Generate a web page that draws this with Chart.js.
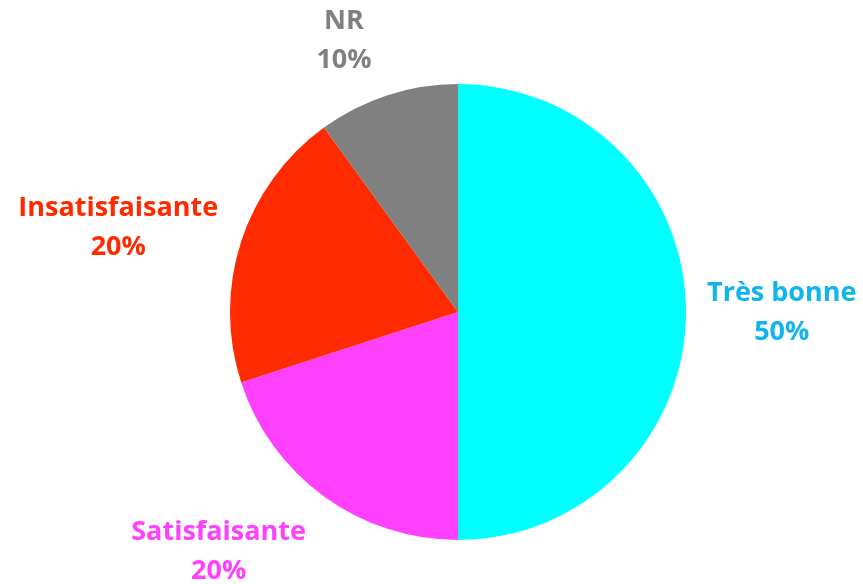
<!DOCTYPE html>
<html>
<head>
<meta charset="utf-8">
<script src="https://cdn.jsdelivr.net/npm/chart.js@4/dist/chart.umd.min.js"></script>
<style>
    html, body { margin: 0; padding: 0; background: #ffffff; }
    #wrap { width: 863px; height: 584px; }
</style>
</head>
<body>
<div id="wrap"><canvas id="appreciation" width="863" height="584"></canvas></div>
<script>
const categories = ['Très bonne', 'Satisfaisante', 'Insatisfaisante', 'NR'];
const percents = [50, 20, 20, 10];
const sliceColors = ['#00FFFF', '#FF40FF', '#FF2A00', '#808080'];
const labelColors = ['#10B4EE', '#FF40FF', '#FF2A00', '#808080'];

// label placement relative to pie center, in units of the radius
const labelOffsets = [
    { x: 1.42, y: 0.0 },
    { x: -1.05, y: 1.05 },
    { x: -1.49, y: -0.37 },
    { x: -0.5, y: -1.19 }
];

const outsideLabels = {
    id: 'outsideLabels',
    afterDatasetsDraw(chart) {
        const ctx = chart.ctx;
        const meta = chart.getDatasetMeta(0);
        ctx.save();
        ctx.font = 'bold 27px "Open Sans"';
        ctx.textAlign = 'center';
        ctx.textBaseline = 'middle';
        meta.data.forEach(function (arc, i) {
            const r = arc.outerRadius;
            const x = arc.x + labelOffsets[i].x * r;
            const y = arc.y + labelOffsets[i].y * r;
            ctx.fillStyle = labelColors[i];
            ctx.fillText(categories[i], x, y - 19);
            ctx.fillText(percents[i] + '%', x, y + 20);
        });
        ctx.restore();
    }
};

const ctx1 = document.getElementById('appreciation').getContext('2d');
const appreciationChart = new Chart(ctx1, {
    type: 'pie',
    data: {
        labels: categories,
        datasets: [{
            data: percents,
            backgroundColor: sliceColors,
            borderWidth: 0
        }]
    },
    options: {
        responsive: false,
        animation: false,
        layout: {
            padding: { left: 230, right: 177, top: 84, bottom: 44 }
        },
        plugins: {
            legend: { display: false },
            tooltip: { enabled: false }
        }
    },
    plugins: [outsideLabels]
});
</script>
</body>
</html>
